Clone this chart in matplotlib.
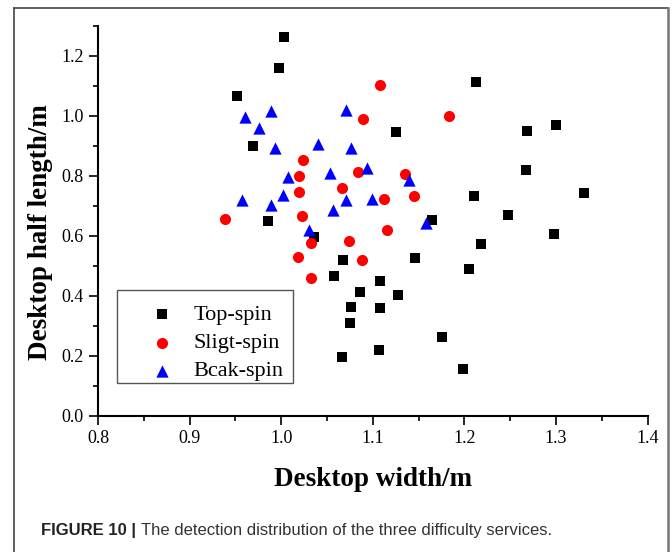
import matplotlib
matplotlib.use("Agg")
import matplotlib.pyplot as plt
from matplotlib.ticker import MultipleLocator
from matplotlib.lines import Line2D
from matplotlib.patches import Rectangle

# Data
top_x = [1.003, 0.998, 0.952, 0.969, 0.986, 1.213, 1.125, 1.268, 1.300, 1.267,
         1.211, 1.331, 1.248, 1.165, 1.298, 1.036, 1.218, 1.068, 1.146, 1.205,
         1.058, 1.108, 1.086, 1.127, 1.076, 1.108, 1.075, 1.176, 1.066, 1.107, 1.198]
top_y = [1.263, 1.160, 1.067, 0.900, 0.649, 1.113, 0.946, 0.949, 0.970, 0.818,
         0.732, 0.743, 0.669, 0.652, 0.605, 0.595, 0.571, 0.519, 0.526, 0.488,
         0.466, 0.450, 0.412, 0.401, 0.362, 0.358, 0.309, 0.263, 0.196, 0.218, 0.155]

slight_x = [0.939, 1.108, 1.089, 1.183, 1.024, 1.019, 1.084, 1.135, 1.019, 1.066,
            1.112, 1.145, 1.023, 1.116, 1.032, 1.074, 1.018, 1.088, 1.032]
slight_y = [0.657, 1.102, 0.990, 0.999, 0.851, 0.799, 0.813, 0.807, 0.745, 0.760,
            0.722, 0.732, 0.666, 0.619, 0.577, 0.582, 0.530, 0.519, 0.460]

back_x = [0.961, 0.989, 0.976, 0.993, 1.007, 1.002, 0.957, 0.989, 1.071, 1.040,
          1.076, 1.053, 1.094, 1.140, 1.071, 1.099, 1.057, 1.158, 1.030]
back_y = [0.995, 1.017, 0.958, 0.891, 0.795, 0.736, 0.719, 0.702, 1.019, 0.906,
          0.891, 0.808, 0.826, 0.786, 0.718, 0.722, 0.686, 0.643, 0.619]

series_labels = ["Top-spin", "Sligt-spin", "Bcak-spin"]
x_label = "Desktop width/m"
y_label = "Desktop half length/m"
caption_bold = "FIGURE 10 | "
caption_text = "The detection distribution of the three difficulty services."

W, H = 672, 552
AX_L, AX_B, AX_W, AX_H = 98.0, 415.7, 549.6, 390.0   # pixel geometry of the axes
fig = plt.figure(figsize=(W / 100, H / 100), dpi=100)
ax = fig.add_axes([AX_L / W, (H - AX_B) / H, AX_W / W, AX_H / H])

def ax_frac(px, py):
    return (px - AX_L) / AX_W, (AX_B - py) / AX_H

serif = ["Liberation Serif", "DejaVu Serif"]

ax.scatter(top_x, top_y, marker="s", s=46, color="black", linewidths=0,
           label=series_labels[0], zorder=3)
ax.scatter(slight_x, slight_y, marker="o", s=64, color="#ff0000", linewidths=0,
           label=series_labels[1], zorder=3)
ax.scatter(back_x, back_y, marker="^", s=78, color="#0000ff", linewidths=0,
           label=series_labels[2], zorder=3)

ax.set_xlim(0.8, 1.4)
ax.set_ylim(0.0, 1.3)
ax.xaxis.set_major_locator(MultipleLocator(0.1))
ax.xaxis.set_minor_locator(MultipleLocator(0.05))
ax.yaxis.set_major_locator(MultipleLocator(0.2))
ax.yaxis.set_minor_locator(MultipleLocator(0.1))
ax.xaxis.set_major_formatter(plt.FormatStrFormatter("%.1f"))
ax.yaxis.set_major_formatter(plt.FormatStrFormatter("%.1f"))

for side in ["top", "right"]:
    ax.spines[side].set_visible(False)
for side in ["left", "bottom"]:
    ax.spines[side].set_linewidth(1.5)
    ax.spines[side].set_color("black")

ax.tick_params(which="major", direction="out", length=6.5, width=1.2, pad=4,
               labelsize=13)
ax.tick_params(which="minor", direction="out", length=3.5, width=1.2)
for lab in ax.get_xticklabels() + ax.get_yticklabels():
    lab.set_family(serif)

ax.set_xlabel(x_label, fontsize=19.5, fontweight="bold", family=serif)
ax.set_ylabel(y_label, fontsize=19.5, fontweight="bold", family=serif)
ax.xaxis.set_label_coords(0.5, (AX_B - 467) / AX_H)
ax.yaxis.set_label_coords((53 - AX_L) / AX_W, (AX_B - 232) / AX_H)

# Legend (entries) without its own frame; frame drawn separately
leg = ax.legend(loc="lower left", bbox_to_anchor=ax_frac(116.7, 389.7),
                borderaxespad=0, frameon=False,
                prop={"family": serif, "size": 16}, handlelength=3.3, handletextpad=-0.2,
                borderpad=0.37, labelspacing=0.34, scatterpoints=1)
leg.set_zorder(6)
fx0, fy0 = ax_frac(116.7, 382.7)
fx1, fy1 = ax_frac(293.3, 290.0)
ax.add_patch(Rectangle((fx0, fy0), fx1 - fx0, fy1 - fy0, transform=ax.transAxes,
                       facecolor="white", edgecolor="#555555", lw=1.0,
                       clip_on=False, zorder=5))

# Figure frame
fig.add_artist(Line2D([14 / W, 14 / W], [0, 1 - 8 / H], transform=fig.transFigure,
                      color="#444444", lw=1.2))
fig.add_artist(Line2D([14 / W, 667.5 / W], [1 - 8 / H, 1 - 8 / H], transform=fig.transFigure,
                      color="#444444", lw=1.2))
fig.add_artist(Line2D([667.5 / W, 667.5 / W], [0, 1 - 8 / H], transform=fig.transFigure,
                      color="#777777", lw=1.8))

# Caption
t1 = fig.text(41 / W, (H - 530) / H, caption_bold, fontsize=12, fontweight="bold",
              family=["Liberation Sans", "DejaVu Sans"], va="center", ha="left", color="#222222")
fig.canvas.draw()
bb = t1.get_window_extent(fig.canvas.get_renderer())
fig.text(bb.x1 / W, (H - 530) / H, caption_text, fontsize=12,
         family=["Liberation Sans", "DejaVu Sans"], va="center", ha="left", color="#333333")

fig.savefig("out.png", dpi=100)
